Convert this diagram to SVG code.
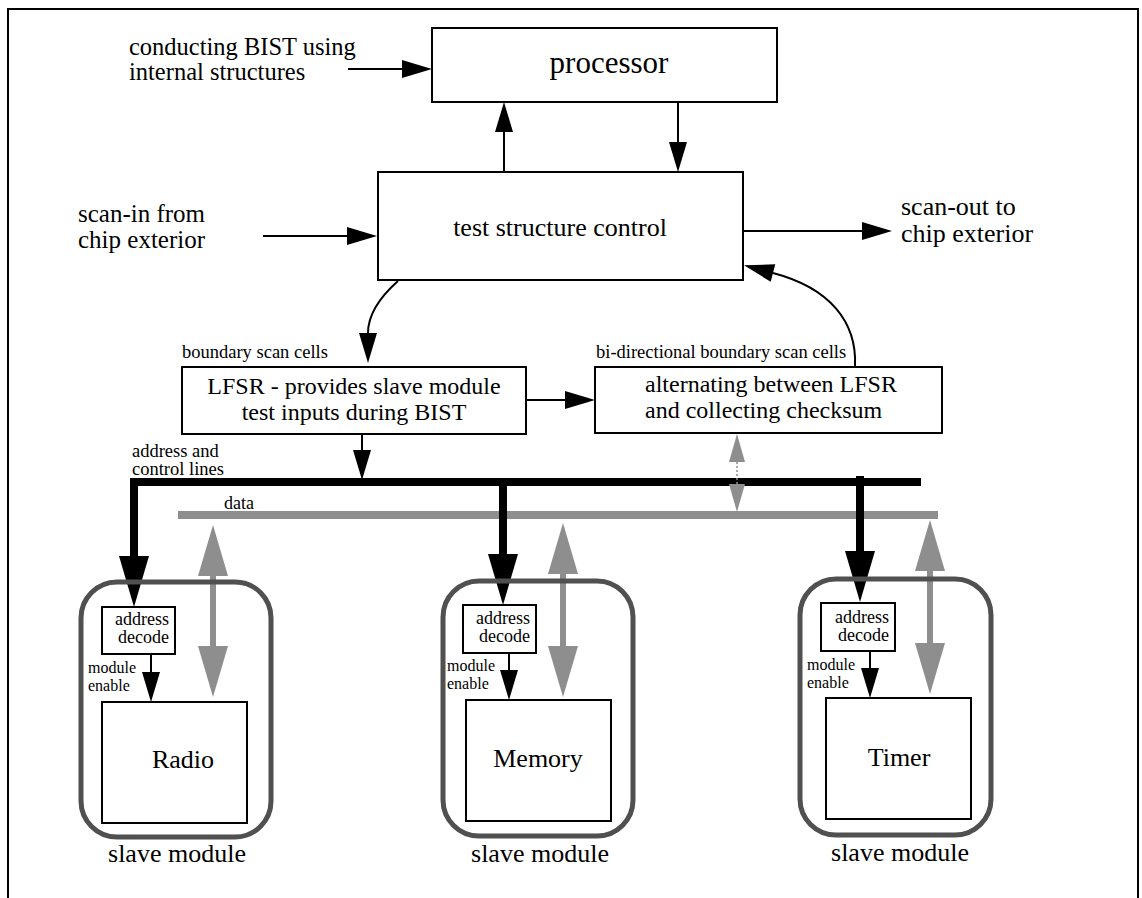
<svg xmlns="http://www.w3.org/2000/svg" width="1142" height="898" viewBox="0 0 1142 898">
<defs>
<style>
.t{font-family:"Liberation Serif","Times New Roman",serif;fill:#000}
.sm{font-size:16px}
.box{fill:#fff;stroke:#000;stroke-width:2}
.ln{fill:none;stroke:#000;stroke-width:2}
.mod{fill:none;stroke:#505050;stroke-width:5}
.bus{fill:none;stroke:#000;stroke-width:8;stroke-linejoin:miter}
.gbus{fill:none;stroke:#8e8e8e;stroke-width:8}
.gsh{fill:none;stroke:#8e8e8e;stroke-width:6}
</style>
<marker id="ah" markerUnits="userSpaceOnUse" markerWidth="30" markerHeight="18" refX="0" refY="9" orient="auto" overflow="visible">
<path d="M0,0 L30,9 L0,18 z" fill="#000"/>
</marker>
<marker id="big" markerUnits="userSpaceOnUse" markerWidth="51" markerHeight="30" refX="0" refY="15" orient="auto" overflow="visible">
<path d="M0,0 L51,15 L0,30 z" fill="#000"/>
</marker>
<marker id="gbig" markerUnits="userSpaceOnUse" markerWidth="51" markerHeight="30" refX="0" refY="15" orient="auto-start-reverse" overflow="visible">
<path d="M0,0 L51,15 L0,30 z" fill="#8e8e8e"/>
</marker>
<marker id="gsm" markerUnits="userSpaceOnUse" markerWidth="28" markerHeight="16" refX="0" refY="8" orient="auto-start-reverse" overflow="visible">
<path d="M0,0 L28,8 L0,16 z" fill="#8e8e8e"/>
</marker>
</defs>

<path id="frame" d="M8,898 V9 H1138 V898" fill="none" stroke="#000" stroke-width="2"/>

<g id="labels">
<text class="t" x="129" y="55" font-size="24.5">conducting BIST using</text>
<text class="t" x="129" y="80" font-size="24.5">internal structures</text>
<text class="t" x="78" y="222" font-size="25">scan-in from</text>
<text class="t" x="78" y="248" font-size="25">chip exterior</text>
<text class="t" x="901" y="215" font-size="26">scan-out to</text>
<text class="t" x="901" y="242" font-size="26">chip exterior</text>
<text class="t" x="182" y="358" font-size="18.5">boundary scan cells</text>
<text class="t" x="596" y="358" font-size="18.5">bi-directional boundary scan cells</text>
<text class="t" x="132" y="457" font-size="18.5">address and</text>
<text class="t" x="132" y="475" font-size="18.5">control lines</text>
<text class="t" x="224" y="509" font-size="18">data</text>
</g>

<g id="processor">
<rect class="box" x="432" y="28" width="345" height="74"/>
<text class="t" x="609" y="73" font-size="31" text-anchor="middle">processor</text>
</g>

<g id="test-structure-control">
<rect class="box" x="378" y="172" width="365" height="108"/>
<text class="t" x="560" y="236" font-size="26" text-anchor="middle">test structure control</text>
</g>

<g id="lfsr">
<rect class="box" x="182" y="367" width="344" height="67"/>
<text class="t" x="354" y="394" font-size="24" text-anchor="middle">LFSR - provides slave module</text>
<text class="t" x="354" y="420" font-size="24" text-anchor="middle">test inputs during BIST</text>
</g>

<g id="checksum">
<rect class="box" x="595" y="367" width="347" height="66"/>
<text class="t" x="645" y="392" font-size="24">alternating between LFSR</text>
<text class="t" x="645" y="418" font-size="24">and collecting checksum</text>
</g>

<g id="connectors">
<line class="ln" x1="348" y1="69" x2="402" y2="69" marker-end="url(#ah)"/>
<line class="ln" x1="504" y1="172" x2="504" y2="132" marker-end="url(#ah)"/>
<line class="ln" x1="678" y1="102" x2="678" y2="142" marker-end="url(#ah)"/>
<line class="ln" x1="263" y1="236" x2="347" y2="236" marker-end="url(#ah)"/>
<line class="ln" x1="743" y1="231" x2="862" y2="231" marker-end="url(#ah)"/>
<path class="ln" d="M398,281 C380,297 368,314 368,333" marker-end="url(#ah)"/>
<path class="ln" d="M855,366 C857,322 830,288 773,273" marker-end="url(#ah)"/>
<line class="ln" x1="526" y1="400" x2="565" y2="400" marker-end="url(#ah)"/>
<line class="ln" x1="362" y1="434" x2="362" y2="450" marker-end="url(#ah)"/>

<path class="gbus" d="M178,515 H938"/>
<path class="bus" d="M921,482 H134 V556" marker-end="url(#big)"/>
<line class="bus" x1="503" y1="482" x2="503" y2="554" marker-end="url(#big)"/>
<line class="bus" x1="860" y1="476" x2="860" y2="551" marker-end="url(#big)"/>

<line x1="737" y1="462" x2="737" y2="484" stroke="#8e8e8e" stroke-width="1.5" stroke-dasharray="2,2" marker-start="url(#gsm)" marker-end="url(#gsm)"/>

<line class="gsh" x1="213" y1="576" x2="213" y2="646" marker-start="url(#gbig)" marker-end="url(#gbig)"/>
<line class="gsh" x1="563" y1="574" x2="563" y2="646" marker-start="url(#gbig)" marker-end="url(#gbig)"/>
<line class="gsh" x1="930" y1="571" x2="930" y2="643" marker-start="url(#gbig)" marker-end="url(#gbig)"/>

<line class="ln" x1="151" y1="654" x2="151" y2="672" marker-end="url(#ah)"/>
<line class="ln" x1="509" y1="653" x2="509" y2="670" marker-end="url(#ah)"/>
<line class="ln" x1="870" y1="651" x2="870" y2="668" marker-end="url(#ah)"/>
</g>

<g id="radio-module">
<rect class="mod" x="81" y="582" width="190" height="255" rx="36"/>
<rect class="box" x="102" y="607" width="73" height="47"/>
<text class="t" x="169" y="625" font-size="18" text-anchor="end">address</text>
<text class="t" x="169" y="643" font-size="18" text-anchor="end">decode</text>
<text class="t sm" x="88" y="673">module</text>
<text class="t sm" x="88" y="691">enable</text>
<rect class="box" x="102" y="702" width="145" height="121"/>
<text class="t" x="183" y="768" font-size="26" text-anchor="middle">Radio</text>
<text class="t" x="177" y="862" font-size="26" text-anchor="middle">slave module</text>
</g>

<g id="memory-module">
<rect class="mod" x="443" y="581" width="190" height="255" rx="36"/>
<rect class="box" x="463" y="605" width="73" height="48"/>
<text class="t" x="530" y="624" font-size="18" text-anchor="end">address</text>
<text class="t" x="530" y="642" font-size="18" text-anchor="end">decode</text>
<text class="t sm" x="447" y="671">module</text>
<text class="t sm" x="447" y="689">enable</text>
<rect class="box" x="466" y="700" width="145" height="121"/>
<text class="t" x="538" y="767" font-size="26" text-anchor="middle">Memory</text>
<text class="t" x="540" y="862" font-size="26" text-anchor="middle">slave module</text>
</g>

<g id="timer-module">
<rect class="mod" x="800" y="579" width="191" height="256" rx="36"/>
<rect class="box" x="821" y="603" width="74" height="48"/>
<text class="t" x="889" y="623" font-size="18" text-anchor="end">address</text>
<text class="t" x="889" y="641" font-size="18" text-anchor="end">decode</text>
<text class="t sm" x="807" y="670">module</text>
<text class="t sm" x="807" y="688">enable</text>
<rect class="box" x="826" y="698" width="145" height="121"/>
<text class="t" x="899" y="766" font-size="26" text-anchor="middle">Timer</text>
<text class="t" x="900" y="861" font-size="26" text-anchor="middle">slave module</text>
</g>
</svg>
